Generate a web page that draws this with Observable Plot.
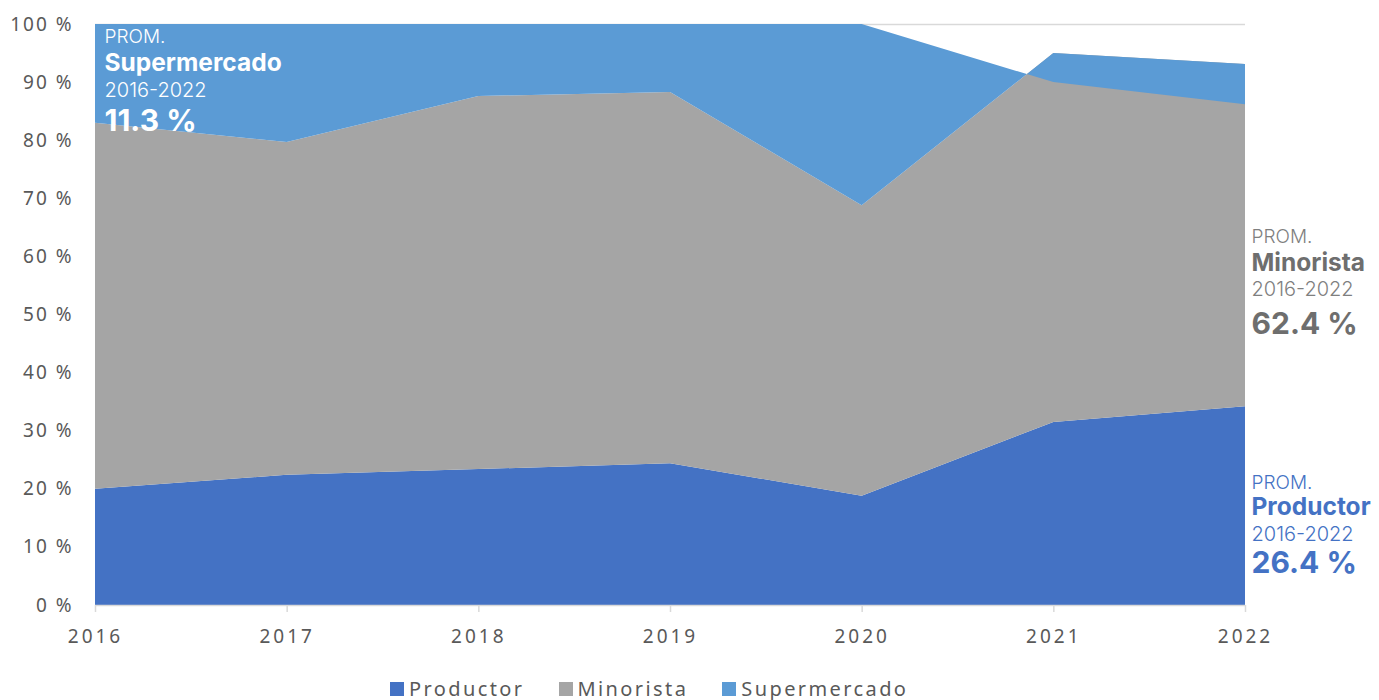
<!DOCTYPE html>
<html>
<head>
<meta charset="utf-8">
<script src="https://cdn.jsdelivr.net/npm/d3@7"></script>
<script src="https://cdn.jsdelivr.net/npm/@observablehq/plot@0.6"></script>
<style>
  html, body { margin: 0; padding: 0; background: #fff; }
  #chart svg { display: block; }
  #chart g[aria-label="x-axis tick label"] text { letter-spacing: 3px; }
  #chart g[aria-label="y-axis tick label"] text { letter-spacing: 2px; }
  .legend { display: flex; align-items: center; margin-left: 390px; margin-top: 5px;
    font-family: "Noto Sans", "Open Sans", sans-serif; font-size: 20px; letter-spacing: 2.4px; color: #595959; }
  .legend .item { display: flex; align-items: center; margin-right: 34px; }
  .legend .sw { width: 14px; height: 14px; margin-right: 5px; }
</style>
</head>
<body>
<div id="chart"></div>
<div class="legend" id="legend"></div>
<script>
// Data (shares, %). Excel-style stacked areas; Supermercado values
const years = [2016, 2017, 2018, 2019, 2020, 2021, 2022];
const productor = [20.0, 22.4, 23.4, 24.4, 18.8, 31.5, 34.2];
const minorista = [63.0, 57.3, 64.2, 63.9, 50.0, 63.5, 58.9];
const supermercado = [17.0, 20.3, 12.4, 11.7, 31.2, -5.0, -6.9];
const yTicks = [0, 10, 20, 30, 40, 50, 60, 70, 80, 90, 100];
const seriesNames = ["Productor", "Minorista", "Supermercado"];
const seriesColors = ["#4472c4", "#a5a5a5", "#5b9bd5"];

const avgSuper = ["PROM.", "Supermercado", "2016-2022", "11.3 %"];
const avgMinor = ["PROM.", "Minorista", "2016-2022", "62.4 %"];
const avgProd = ["PROM.", "Productor", "2016-2022", "26.4 %"];

const rows = years.map((year, i) => ({
  year,
  p: productor[i],
  pm: productor[i] + minorista[i],
  pms: productor[i] + minorista[i] + supermercado[i]
}));

const FONT = "Inter, 'Open Sans', sans-serif";
const lineStyles = [
  {size: 19, weight: 300},
  {size: 24.5, weight: 700},
  {size: 20, weight: 300},
  {size: 30, weight: 700}
];

function annotation(lines, frameAnchor, dx, dys, colors) {
  return lines.map((t, i) => Plot.text([t], {
    text: d => d,
    frameAnchor,
    textAnchor: "start",
    lineAnchor: "middle",
    dx,
    dy: dys[i],
    fill: colors[i],
    fontSize: lineStyles[i].size,
    fontWeight: lineStyles[i].weight,
    fontFamily: FONT
  }));
}

const chart = Plot.plot({
  width: 1379,
  height: 670,
  marginLeft: 95,
  marginRight: 134,
  marginTop: 24,
  marginBottom: 65,
  style: {fontFamily: "'Noto Sans', sans-serif", background: "#fff", overflow: "visible"},
  x: {domain: [2016, 2022]},
  y: {domain: [0, 100]},
  marks: [
    Plot.ruleY([100], {stroke: "#d9d9d9", strokeWidth: 1.5}),
    Plot.areaY(rows, {x: "year", y1: 0, y2: "p", fill: seriesColors[0]}),
    Plot.areaY(rows, {x: "year", y1: "p", y2: "pm", fill: seriesColors[1]}),
    Plot.areaY(rows, {x: "year", y1: "pm", y2: "pms", fill: seriesColors[2]}),
    Plot.ruleY([0], {stroke: "#d9d9d9", strokeWidth: 1.5}),
    Plot.axisY({ticks: yTicks, tickSize: 0, tickPadding: 22, tickFormat: d => d + " %",
      fontSize: 19, fill: "#595959", label: null}),
    Plot.axisX({ticks: years, tickSize: 7, stroke: "#d9d9d9", strokeWidth: 1.5, tickPadding: 17,
      tickFormat: d => String(d), fontSize: 19, fill: "#595959", label: null}),
    ...annotation(avgSuper, "top-left", 9, [12, 39, 66, 97], ["#fff", "#fff", "#fff", "#fff"]),
    ...annotation(avgMinor, "top-right", 6, [212, 239, 265, 300], ["#7f7f7f", "#6e6e6e", "#7f7f7f", "#6e6e6e"]),
    ...annotation(avgProd, "top-right", 6, [458, 483, 510, 539], ["#4472c4", "#4472c4", "#4472c4", "#4472c4"])
  ]
});
document.getElementById("chart").appendChild(chart);

const legend = document.getElementById("legend");
seriesNames.forEach((name, i) => {
  const item = document.createElement("div");
  item.className = "item";
  item.innerHTML = `<span class="sw" style="background:${seriesColors[i]}"></span><span>${name}</span>`;
  legend.appendChild(item);
});
</script>
</body>
</html>
